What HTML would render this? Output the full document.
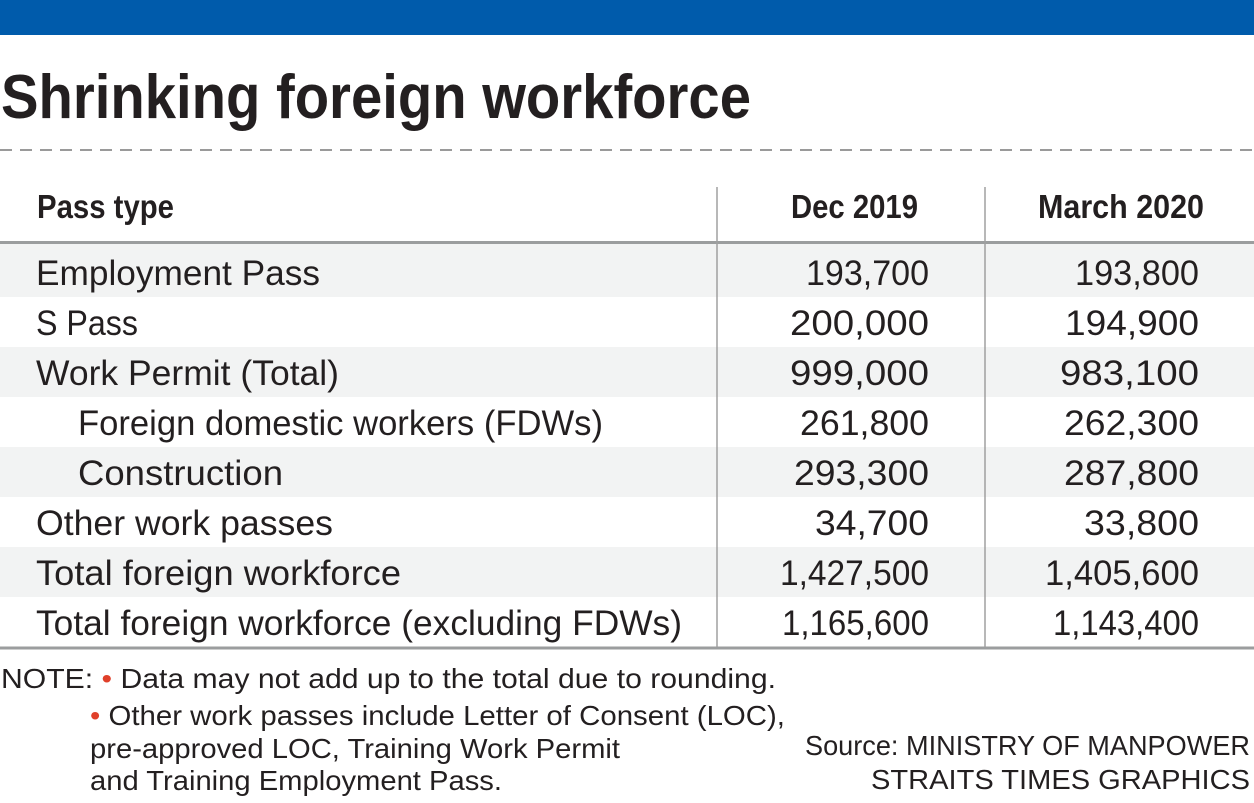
<!DOCTYPE html>
<html><head><meta charset="utf-8"><style>
html,body{margin:0;padding:0;background:#fff;width:1254px;height:803px;overflow:hidden}
svg{display:block}
text{font-family:"Liberation Sans",sans-serif;fill:#231f20}
.b{font-weight:bold}
</style></head><body>
<svg width="1254" height="803" viewBox="0 0 1254 803" xmlns="http://www.w3.org/2000/svg">
<rect x="0" y="0" width="1254" height="35" fill="#005bab"/>
<text class="b" x="1" y="118" font-size="62" textLength="750" lengthAdjust="spacingAndGlyphs">Shrinking foreign workforce</text>
<line x1="0" y1="150" x2="1254" y2="150" stroke="#9a9a9a" stroke-width="2" stroke-dasharray="12,8"/>
<text class="b" x="37" y="218" font-size="33" textLength="137" lengthAdjust="spacingAndGlyphs">Pass type</text>
<text class="b" x="791" y="218" font-size="33" textLength="127" lengthAdjust="spacingAndGlyphs">Dec 2019</text>
<text class="b" x="1038" y="218" font-size="33" textLength="166" lengthAdjust="spacingAndGlyphs">March 2020</text>
<rect x="0" y="244" width="1254" height="53" fill="#f2f3f3"/>
<rect x="0" y="347" width="1254" height="50" fill="#f2f3f3"/>
<rect x="0" y="447" width="1254" height="50" fill="#f2f3f3"/>
<rect x="0" y="547" width="1254" height="50" fill="#f2f3f3"/>
<line x1="0" y1="242.5" x2="1254" y2="242.5" stroke="#9b9d9e" stroke-width="3"/>
<line x1="0" y1="648" x2="1254" y2="648" stroke="#9b9d9e" stroke-width="3"/>
<line x1="717" y1="187" x2="717" y2="647" stroke="#a0a0a0" stroke-width="1.5"/>
<line x1="985" y1="187" x2="985" y2="647" stroke="#a0a0a0" stroke-width="1.5"/>
<g font-size="35">
<text x="36" y="285" textLength="284" lengthAdjust="spacingAndGlyphs">Employment Pass</text>
<text x="36" y="335" textLength="102" lengthAdjust="spacingAndGlyphs">S Pass</text>
<text x="36" y="385" textLength="303" lengthAdjust="spacingAndGlyphs">Work Permit (Total)</text>
<text x="78" y="435" textLength="525" lengthAdjust="spacingAndGlyphs">Foreign domestic workers (FDWs)</text>
<text x="78" y="485" textLength="205" lengthAdjust="spacingAndGlyphs">Construction</text>
<text x="36" y="535" textLength="297" lengthAdjust="spacingAndGlyphs">Other work passes</text>
<text x="36" y="585" textLength="365" lengthAdjust="spacingAndGlyphs">Total foreign workforce</text>
<text x="36" y="635" textLength="646" lengthAdjust="spacingAndGlyphs">Total foreign workforce (excluding FDWs)</text>
</g>
<g font-size="35">
<text x="806" y="285" textLength="123" lengthAdjust="spacingAndGlyphs">193,700</text>
<text x="790" y="335" textLength="139" lengthAdjust="spacingAndGlyphs">200,000</text>
<text x="790" y="385" textLength="139" lengthAdjust="spacingAndGlyphs">999,000</text>
<text x="800" y="435" textLength="129" lengthAdjust="spacingAndGlyphs">261,800</text>
<text x="794" y="485" textLength="135" lengthAdjust="spacingAndGlyphs">293,300</text>
<text x="815" y="535" textLength="114" lengthAdjust="spacingAndGlyphs">34,700</text>
<text x="780" y="585" textLength="149" lengthAdjust="spacingAndGlyphs">1,427,500</text>
<text x="782" y="635" textLength="147" lengthAdjust="spacingAndGlyphs">1,165,600</text>
<text x="1075" y="285" textLength="124" lengthAdjust="spacingAndGlyphs">193,800</text>
<text x="1065" y="335" textLength="134" lengthAdjust="spacingAndGlyphs">194,900</text>
<text x="1060" y="385" textLength="139" lengthAdjust="spacingAndGlyphs">983,100</text>
<text x="1064" y="435" textLength="135" lengthAdjust="spacingAndGlyphs">262,300</text>
<text x="1064" y="485" textLength="135" lengthAdjust="spacingAndGlyphs">287,800</text>
<text x="1084" y="535" textLength="115" lengthAdjust="spacingAndGlyphs">33,800</text>
<text x="1045" y="585" textLength="154" lengthAdjust="spacingAndGlyphs">1,405,600</text>
<text x="1053" y="635" textLength="146" lengthAdjust="spacingAndGlyphs">1,143,400</text>
</g>
<g font-size="28">
<text x="1" y="688" textLength="775" lengthAdjust="spacingAndGlyphs">NOTE: <tspan fill="#e0402a">•</tspan> Data may not add up to the total due to rounding.</text>
<text x="90" y="725" textLength="695" lengthAdjust="spacingAndGlyphs"><tspan fill="#e0402a">•</tspan> Other work passes include Letter of Consent (LOC),</text>
<text x="90" y="758" textLength="530" lengthAdjust="spacingAndGlyphs">pre-approved LOC, Training Work Permit</text>
<text x="90" y="790" textLength="412" lengthAdjust="spacingAndGlyphs">and Training Employment Pass.</text>
<text x="805" y="755" textLength="445" lengthAdjust="spacingAndGlyphs">Source: MINISTRY OF MANPOWER</text>
<text x="871" y="789" textLength="379" lengthAdjust="spacingAndGlyphs">STRAITS TIMES GRAPHICS</text>
</g>
</svg>
</body></html>
